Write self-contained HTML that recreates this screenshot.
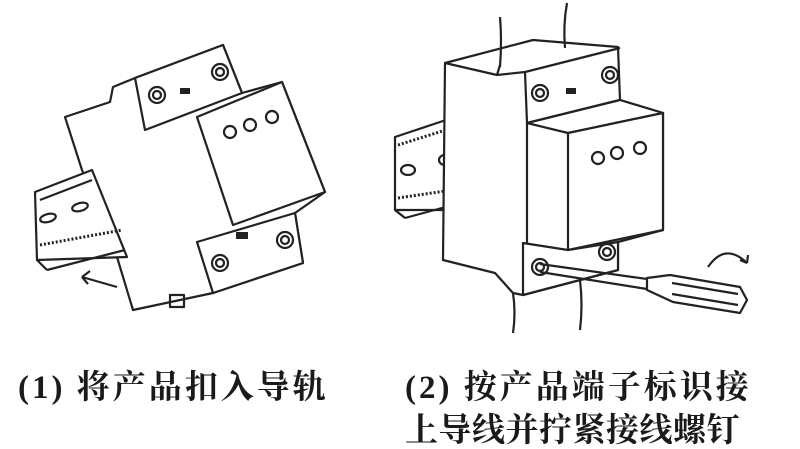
<!DOCTYPE html>
<html><head><meta charset="utf-8"><style>
html,body{margin:0;padding:0;background:#fff;}
.wrap{position:relative;width:800px;height:449px;overflow:hidden;background:#fff;}
.t{position:absolute;font-family:"Liberation Serif","Noto Serif CJK SC",serif;font-weight:bold;font-size:33px;color:#1a1a1a;white-space:nowrap;letter-spacing:3px;}
</style></head><body><div class="wrap">
<svg width="800" height="449" style="position:absolute;left:0;top:0" fill="none" stroke="#222" stroke-width="2.2" stroke-linejoin="round">
<!-- LEFT -->
<polygon points="65,117 110,102 113,87 135,78 223,45 242,93 282,82 325,192 295,213 303,263 213,293 133,310 117,257 82,170" fill="#fff"/>
<polygon points="35,192 92,170 127,257 37,260" fill="#fff"/>
<line x1="37" y1="260" x2="47" y2="270"/><line x1="47" y1="270" x2="125" y2="250"/>
<line x1="40" y1="245" x2="122" y2="230" stroke-width="3" stroke-dasharray="2 2"/>
<line x1="40" y1="200" x2="92" y2="180"/>
<ellipse cx="48" cy="218" rx="8" ry="4" transform="rotate(-15 48 218)"/>
<ellipse cx="80" cy="207" rx="8" ry="4" transform="rotate(-15 80 207)"/>
<polygon points="135,78 223,45 242,93 145,130" fill="#fff"/>
<polygon points="197,117 282,82 325,192 233,225" fill="#fff"/>
<polygon points="197,242 295,213 303,263 213,293" fill="#fff"/>
<circle cx="157" cy="95" r="8"/><circle cx="157" cy="95" r="4"/>
<circle cx="220" cy="72" r="8"/><circle cx="220" cy="72" r="4"/>
<rect x="180" y="88" width="10" height="6" fill="#222" stroke="none"/>
<circle cx="230" cy="132" r="6"/><circle cx="250" cy="125" r="6"/><circle cx="272" cy="117" r="6"/>
<circle cx="220" cy="263" r="8"/><circle cx="220" cy="263" r="4"/>
<circle cx="285" cy="240" r="8"/><circle cx="285" cy="240" r="4"/>
<rect x="236" y="232" width="12" height="7" fill="#222" stroke="none"/>
<rect x="170" y="295" width="14" height="12"/>
<path d="M117,287 L82,277 M82,277 l8,-6 M82,277 l6,7"/>
<!-- RIGHT -->
<polygon points="395,137 452,118 453,210 395,210" fill="#fff"/>
<line x1="395" y1="210" x2="405" y2="218"/><line x1="405" y1="218" x2="453" y2="205"/>
<line x1="398" y1="198" x2="452" y2="190" stroke-width="3" stroke-dasharray="2 2"/>
<line x1="398" y1="145" x2="452" y2="128" stroke-width="3" stroke-dasharray="2 2"/>
<ellipse cx="408" cy="170" rx="7" ry="5"/><ellipse cx="445" cy="160" rx="6" ry="5"/>
<polygon points="445,63 533,40 618,47 620,100 663,113 663,230 618,242 618,270 523,295 513,293 495,273 443,260" fill="#fff"/>
<polyline points="445,63 497,75 525,72"/>
<line x1="497" y1="75" x2="500" y2="65"/>
<line x1="525" y1="72" x2="620" y2="48"/>
<line x1="525" y1="72" x2="527" y2="123"/>
<polyline points="527,123 620,100"/>
<polygon points="527,123 620,100 663,113 568,133" fill="#fff"/>
<polygon points="568,133 663,113 663,230 568,250" fill="#fff"/>
<line x1="527" y1="123" x2="527" y2="243"/>
<polygon points="523,243 568,250 618,242 618,270 523,295" fill="#fff"/>
<circle cx="540" cy="93" r="8"/><circle cx="540" cy="93" r="4"/>
<circle cx="610" cy="75" r="8"/><circle cx="610" cy="75" r="4"/>
<rect x="566" y="88" width="10" height="6" fill="#222" stroke="none"/>
<circle cx="598" cy="158" r="6"/><circle cx="617" cy="153" r="6"/><circle cx="640" cy="148" r="6"/>
<circle cx="540" cy="267" r="8"/><circle cx="540" cy="267" r="4"/>
<circle cx="607" cy="252" r="8"/><circle cx="607" cy="252" r="4"/>
<path d="M500,17 Q502,40 500,67"/><path d="M567,3 Q563,25 565,48"/>
<path d="M513,293 Q516,313 513,333"/><path d="M580,280 Q583,305 580,330"/>
<line x1="540" y1="264" x2="647" y2="279"/><line x1="540" y1="272" x2="647" y2="289"/>
<polygon points="647,278 670,275 740,287 747,300 740,313 673,302 647,290" fill="#fff"/>
<line x1="672" y1="283" x2="738" y2="294"/><line x1="672" y1="294" x2="738" y2="305"/>
<path d="M708,267 Q725,242 747,263"/><path d="M747,263 l-7,-3 M747,263 l1,-8"/>
</svg>
<div class="t" style="left:18px;top:361px;">(1) 将产品扣入导轨</div>
<div class="t" style="left:405px;top:361px;">(2) 按产品端子标识接</div>
<div class="t" style="left:405px;top:404px;letter-spacing:0.5px;">上导线并拧紧接线螺钉</div>
</div></body></html>
